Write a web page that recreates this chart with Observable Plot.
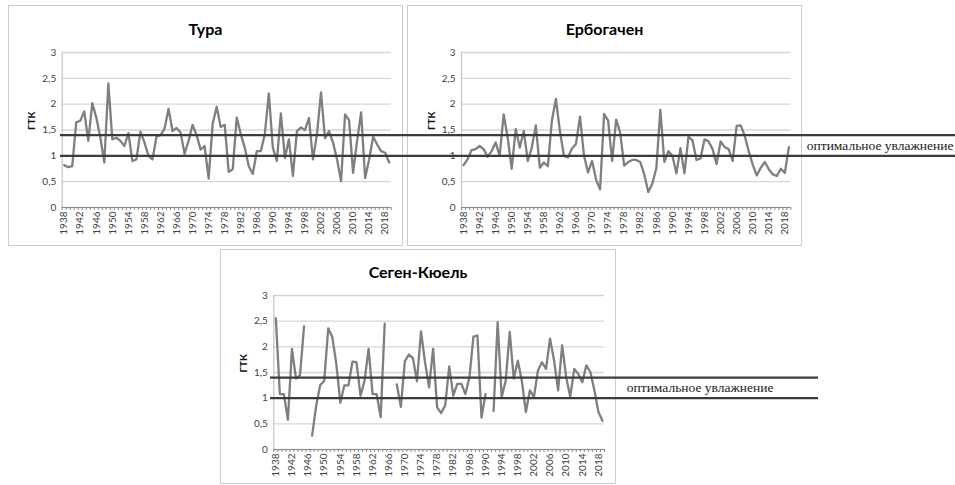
<!DOCTYPE html>
<html><head><meta charset="utf-8">
<script src="https://cdn.jsdelivr.net/npm/d3@7"></script>
<script src="https://cdn.jsdelivr.net/npm/@observablehq/plot@0.6"></script>
<style>
html,body{margin:0;padding:0;background:#fff;}
#chart{position:relative;width:955px;height:485px;overflow:hidden;background:#fff;}
.panel{position:absolute;box-sizing:border-box;border:1px solid #cdcdcd;background:#fff;}
.title{position:absolute;left:0;right:0;text-align:center;font-family:Lato,"Open Sans",sans-serif;font-weight:bold;font-size:16px;line-height:16px;color:#000;}
</style></head><body><div id="chart"></div>
<script>
// ---- data ----
const years = d3.range(1938, 2020);
const xTickYears = [1938,1942,1946,1950,1954,1958,1962,1966,1970,1974,1978,1982,1986,1990,1994,1998,2002,2006,2010,2014,2018];
const yTicks = [0, 0.5, 1, 1.5, 2, 2.5, 3];
const yTickLabels = ["0", "0,5", "1", "1,5", "2", "2,5", "3"];
const yLabel = "ГТК";
const optimal = [1.0, 1.4];
const optimalLabel = "оптимальное увлажнение";
const stations = ["Тура", "Ербогачен", "Сеген-Кюель"];

const turaValues = [
  0.82,0.78,0.80,1.65,1.68,1.86,1.29,2.02,1.74,1.36,
  0.87,2.40,1.32,1.35,1.29,1.19,1.44,0.90,0.93,1.47,
  1.26,1.00,0.93,1.37,1.40,1.52,1.91,1.48,1.54,1.45,
  1.04,1.29,1.60,1.40,1.12,1.19,0.56,1.62,1.95,1.56,
  1.60,0.69,0.74,1.74,1.42,1.16,0.80,0.65,1.09,1.09,
  1.42,2.21,1.16,0.90,1.82,0.96,1.32,0.61,1.48,1.55,
  1.50,1.73,0.93,1.42,2.23,1.34,1.48,1.26,0.93,0.51,
  1.80,1.69,0.67,1.29,1.84,0.57,0.93,1.37,1.22,1.09,
  1.06,0.87
];
const erbogachenValues = [
  0.82,0.93,1.11,1.13,1.19,1.13,0.98,1.09,1.26,1.00,
  1.80,1.35,0.75,1.52,1.16,1.48,0.90,1.16,1.59,0.77,
  0.87,0.80,1.68,2.10,1.48,1.00,0.97,1.14,1.23,1.76,
  1.00,0.68,0.90,0.54,0.35,1.81,1.68,0.90,1.70,1.45,
  0.81,0.88,0.92,0.92,0.88,0.64,0.30,0.46,0.76,1.89,
  0.88,1.09,1.00,0.66,1.15,0.66,1.37,1.30,0.92,0.95,
  1.32,1.28,1.13,0.84,1.28,1.17,1.13,0.90,1.58,1.59,
  1.39,1.09,0.83,0.62,0.77,0.88,0.74,0.64,0.61,0.75,
  0.67,1.17
];
const segenValues = [
  2.56,1.08,1.08,0.58,1.96,1.38,1.45,2.40,null,0.27,
  0.85,1.25,1.34,2.36,2.19,1.67,0.91,1.25,1.25,1.71,
  1.70,1.05,1.34,1.96,1.08,1.08,0.63,2.45,null,null,
  1.27,0.83,1.72,1.85,1.78,1.33,2.30,1.70,1.21,1.96,
  0.82,0.71,0.86,1.62,1.05,1.28,1.28,1.08,1.40,2.20,
  2.22,0.62,1.08,null,0.75,2.48,1.02,1.34,2.29,1.38,
  1.73,1.34,0.73,1.15,1.02,1.54,1.70,1.57,2.16,1.73,
  1.15,2.03,1.41,1.02,1.57,1.47,1.31,1.64,1.51,1.15,
  0.73,0.56
];

// ---- layout (page pixels) ----
const layout = [
  {box: {x0: 8, y0: 5, x1: 403, y1: 246}, frame: {x0: 61.7, y0: 52, x1: 390.7, y1: 207}, titleY: 23},
  {box: {x0: 407, y0: 5, x1: 802, y1: 246}, frame: {x0: 461, y0: 52, x1: 790.4, y1: 207}, titleY: 23},
  {box: {x0: 220, y0: 249, x1: 616, y1: 484}, frame: {x0: 273.3, y0: 295, x1: 604, y1: 449}, titleY: 22}
];
const seriesList = [turaValues, erbogachenValues, segenValues];

const chart = document.getElementById("chart");

function place(svg, left, top) {
  svg.style.position = "absolute";
  svg.style.left = left + "px";
  svg.style.top = top + "px";
  svg.style.maxWidth = "none";
  chart.appendChild(svg);
}

stations.forEach((name, k) => {
  const {box, frame, titleY} = layout[k];
  const values = seriesList[k];
  const div = document.createElement("div");
  div.className = "panel";
  Object.assign(div.style, {left: box.x0 + "px", top: box.y0 + "px", width: (box.x1 - box.x0) + "px", height: (box.y1 - box.y0) + "px"});
  const t = document.createElement("div");
  t.className = "title";
  t.style.top = (titleY - 8) + "px";
  t.textContent = name;
  div.appendChild(t);
  chart.appendChild(div);

  const data = years.map((year, i) => ({year, value: values[i]}));
  const xDomain = [years[0] - 0.5, years[years.length - 1] + 0.5];
  const bounds = d3.range(xDomain[0], xDomain[1] + 0.001, 1);
  const svg = Plot.plot({
    width: box.x1 - box.x0,
    height: box.y1 - box.y0,
    marginLeft: frame.x0 - box.x0,
    marginRight: box.x1 - frame.x1,
    marginTop: frame.y0 - box.y0,
    marginBottom: box.y1 - frame.y1,
    style: {fontFamily: "Lato, 'Open Sans', sans-serif", fontSize: "10px", background: "transparent", overflow: "visible", color: "#404040"},
    x: {type: "linear", domain: xDomain},
    y: {domain: [0, 3]},
    marks: [
      Plot.gridY(yTicks, {stroke: "#d6d6d6", strokeOpacity: 1, strokeWidth: 1.3}),
      Plot.ruleX([xDomain[0]], {stroke: "#c4c4c4", strokeWidth: 1.2}),
      Plot.ruleY([0], {stroke: "#8c8c8c", strokeWidth: 1}),
      Plot.axisX(bounds, {tickSize: 3, tickFormat: () => "", stroke: "#8c8c8c", label: null}),
      Plot.axisX(xTickYears, {tickSize: 0, tickPadding: 4, tickRotate: -90, tickFormat: d => String(d), fill: "#404040", label: null}),
      Plot.axisY(yTicks, {tickSize: 0, tickPadding: 6, tickFormat: d => yTickLabels[yTicks.indexOf(d)], fill: "#404040", label: null}),
      Plot.text([yLabel], {frameAnchor: "left", rotate: -90, dx: -30, fontWeight: "bold", fontSize: 10, fill: "#111"}),
      Plot.lineY(data, {x: "year", y: "value", stroke: "#7f7f7f", strokeWidth: 2.3, strokeLinejoin: "round"})
    ]
  });
  place(svg, box.x0, box.y0);
});

// ---- optimal moisture band lines (overlays sharing the panels' y scale) ----
function overlay(height, margins, textOpts) {
  const svg = Plot.plot({
    width: 955, height,
    marginLeft: margins.left, marginRight: margins.right, marginTop: margins.top, marginBottom: margins.bottom,
    style: {background: "transparent", overflow: "visible"},
    y: {domain: [0, 3], axis: null},
    marks: [
      Plot.ruleY(optimal, {stroke: "#3b3b3b", strokeWidth: 2.2}),
      Plot.text([optimalLabel], {frameAnchor: "right", y: d3.mean(optimal), textAnchor: "end", fontFamily: "'Liberation Serif', 'DejaVu Serif', serif", fontSize: 13.5, fill: "#1a1a1a", ...textOpts})
    ]
  });
  place(svg, 0, 0);
}
overlay(246, {left: 60, right: 0, top: 52, bottom: 246 - 207}, {dx: -2});
overlay(485, {left: 270, right: 955 - 818, top: 295, bottom: 485 - 449}, {dx: -45});
</script></body></html>
